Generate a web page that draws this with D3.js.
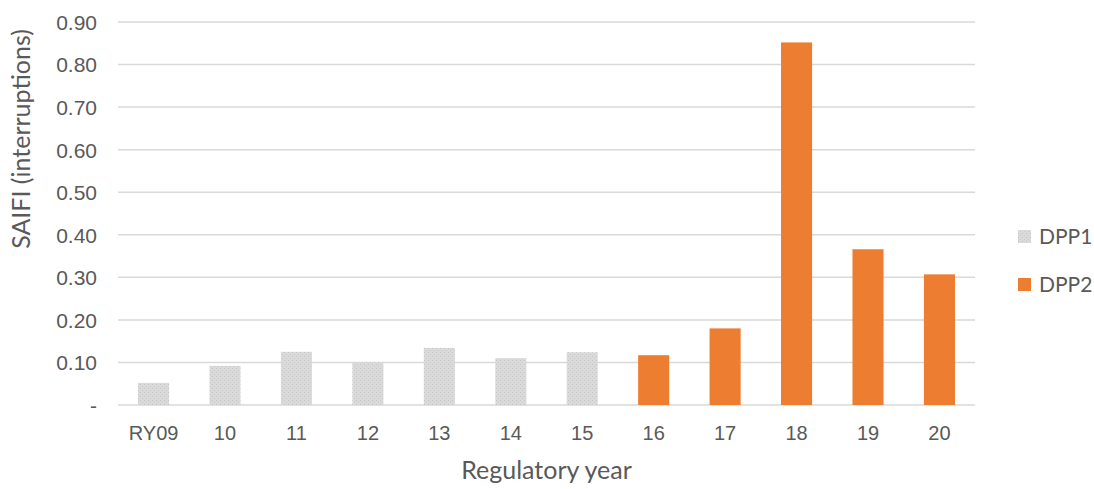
<!DOCTYPE html>
<html>
<head>
<meta charset="utf-8">
<script src="https://cdn.jsdelivr.net/npm/d3@7"></script>
<style>
  body { margin: 0; background: #fff; }
  svg { display: block; font-family: Lato, "Open Sans", sans-serif; }
</style>
</head>
<body>
<svg id="chart" width="1094" height="489"></svg>
<script>
// Regulatory years and SAIFI values
const years = ["RY09", "10", "11", "12", "13", "14", "15", "16", "17", "18", "19", "20"];
const saifi = [0.052, 0.092, 0.125, 0.100, 0.134, 0.110, 0.124, 0.117, 0.180, 0.852, 0.366, 0.307];
const period = ["DPP1", "DPP1", "DPP1", "DPP1", "DPP1", "DPP1", "DPP1", "DPP2", "DPP2", "DPP2", "DPP2", "DPP2"];
const seriesNames = ["DPP1", "DPP2"];
const yTicks = [0, 0.1, 0.2, 0.3, 0.4, 0.5, 0.6, 0.7, 0.8, 0.9];

const svg = d3.select("#chart");
const margin = { left: 118, right: 119, top: 22, bottom: 84 };
const W = 1094, H = 489;

// stippled grey fill for DPP1 bars
const defs = svg.append("defs");
const pat = defs.append("pattern").attr("id", "dots")
  .attr("patternUnits", "userSpaceOnUse").attr("width", 4).attr("height", 4);
pat.append("rect").attr("width", 4).attr("height", 4).attr("fill", "#dadada");
pat.append("rect").attr("x", 0).attr("y", 0).attr("width", 1).attr("height", 1).attr("fill", "#c4c4c4");
pat.append("rect").attr("x", 2).attr("y", 2).attr("width", 1).attr("height", 1).attr("fill", "#cacaca");

const fills = { DPP1: "url(#dots)", DPP2: "#ed7d31" };

const x = d3.scaleBand().domain(years)
  .range([margin.left, W - margin.right]).paddingInner(0.565).paddingOuter(0.28);
const y = d3.scaleLinear().domain([0, 0.9]).range([H - margin.bottom, margin.top]);

// gridlines
svg.append("g").selectAll("line").data(yTicks).join("line")
  .attr("x1", margin.left).attr("x2", W - margin.right)
  .attr("y1", d => y(d)).attr("y2", d => y(d))
  .attr("stroke", "#d9d9d9").attr("stroke-width", 1.5);

// y axis labels
const yAxis = d3.axisLeft(y).tickValues(yTicks)
  .tickFormat(d => d === 0 ? "-" : d3.format(".2f")(d)).tickSize(0).tickPadding(21);
const gy = svg.append("g").attr("transform", `translate(${margin.left},0)`).call(yAxis);
gy.select(".domain").remove();
gy.selectAll("text").attr("fill", "#595959").attr("font-size", 21).attr("dy", "0.35em");

// bars
svg.append("g").selectAll("rect").data(years).join("rect")
  .attr("x", d => x(d))
  .attr("width", x.bandwidth())
  .attr("y", (d, i) => y(saifi[i]))
  .attr("height", (d, i) => y(0) - y(saifi[i]))
  .attr("fill", (d, i) => fills[period[i]]);

// x axis labels
const xAxis = d3.axisBottom(x).tickSize(0).tickPadding(21);
const gx = svg.append("g").attr("transform", `translate(0,${y(0)})`).call(xAxis);
gx.select(".domain").remove();
gx.selectAll("text").attr("fill", "#595959").attr("font-size", 20);

// axis titles
svg.append("text").attr("x", (margin.left + W - margin.right) / 2).attr("y", 479)
  .attr("text-anchor", "middle").attr("fill", "#595959").attr("font-size", 25)
  .text("Regulatory year");
svg.append("text").attr("transform", "translate(30,139) rotate(-90)")
  .attr("text-anchor", "middle").attr("fill", "#595959").attr("font-size", 25)
  .text("SAIFI (interruptions)");

// legend
const lg = svg.append("g").selectAll("g").data(seriesNames).join("g")
  .attr("transform", (d, i) => `translate(1018,${237 + i * 48})`);
lg.append("rect").attr("x", 0).attr("y", -7).attr("width", 13).attr("height", 13)
  .attr("fill", d => fills[d]);
lg.append("text").attr("x", 21).attr("y", 0).attr("dy", "0.35em")
  .attr("fill", "#595959").attr("font-size", 21).text(d => d);
</script>
</body>
</html>
